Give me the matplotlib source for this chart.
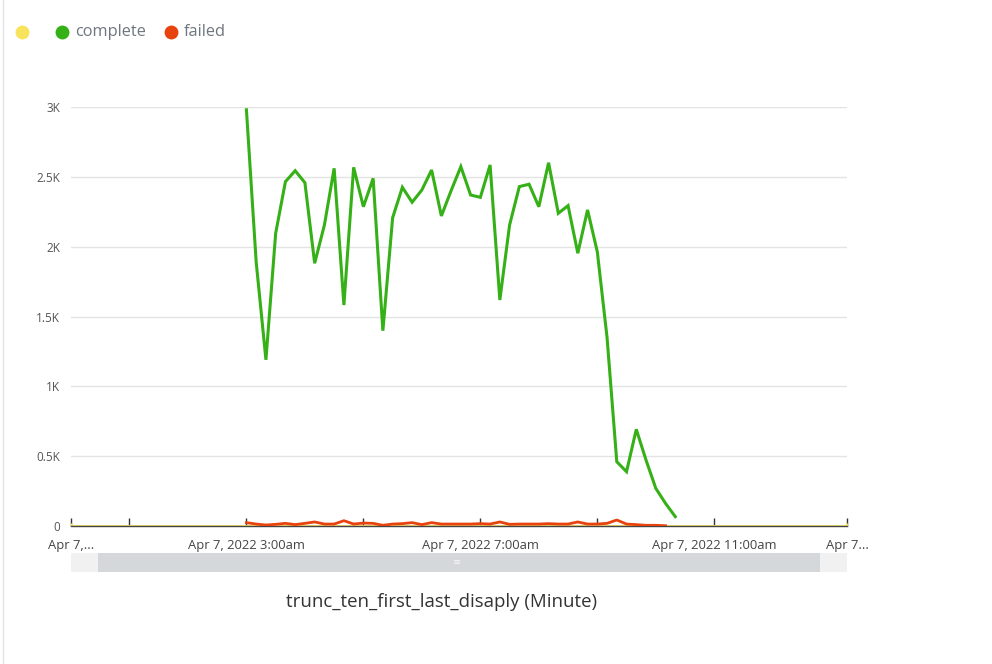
import matplotlib.pyplot as plt
from matplotlib.patches import Rectangle
from matplotlib.lines import Line2D

plt.rcParams['font.family'] = ['Open Sans', 'DejaVu Sans']

# Dados (horas desde 0:00 de Apr 7, 2022; pontos a cada 10 minutos a partir das 3:00)
inicio_h = 3.0
passo_h = 10 / 60

complete = [2980, 1890, 1190, 2096, 2465, 2544, 2458, 1881, 2155, 2561,
            1582, 2568, 2286, 2489, 1398, 2207, 2425, 2318, 2406, 2549,
            2220, 2401, 2573, 2370, 2353, 2585, 1618, 2155, 2430, 2447,
            2286, 2601, 2239, 2294, 1953, 2263, 1964, 1350, 460, 389,
            692, 472, 270, 162, 67]
failed = [24, 14, 7, 12, 19, 10, 19, 29, 14, 14,
          38, 14, 21, 19, 5, 14, 17, 24, 10, 24,
          14, 14, 14, 14, 17, 14, 29, 12, 14, 14,
          14, 17, 14, 14, 29, 14, 14, 19, 43, 14,
          10, 5, 5, 2]
amarelo_t = [0.0, 13.27]
amarelo_v = [0, 0]

x_complete = [inicio_h + i * passo_h for i in range(len(complete))]
x_failed = [inicio_h + i * passo_h for i in range(len(failed))]

x_ticks = [0, 1, 3, 5, 7, 9, 11, 13.27]
x_labels = ["Apr 7,...", "", "Apr 7, 2022 3:00am", "", "Apr 7, 2022 7:00am",
            "", "Apr 7, 2022 11:00am", "Apr 7..."]
y_ticks = [0, 500, 1000, 1500, 2000, 2500, 3000]
y_labels = ["0", "0.5K", "1K", "1.5K", "2K", "2.5K", "3K"]

verde = "#35b017"
vermelho = "#e8430e"
amarelo = "#f7e35c"

W, H = 992, 664
fig = plt.figure(figsize=(W / 100, H / 100), dpi=100)
fig.patch.set_facecolor("white")

ax = fig.add_axes([71 / W, 1 - 526 / H, (847 - 71) / W, (526 - 107) / H])
ax.plot(amarelo_t, amarelo_v, color=amarelo, lw=2, marker="|", ms=4, mew=2, zorder=2)
ax.plot(x_complete, complete, color=verde, lw=2.2, solid_joinstyle="miter", zorder=3)
ax.plot(x_failed, failed, color=vermelho, lw=2, zorder=3)

ax.set_xlim(0, 13.27)
ax.set_ylim(0, 3000)
ax.set_yticks(y_ticks)
ax.set_yticklabels(y_labels)
ax.set_xticks(x_ticks)
ax.set_xticklabels(x_labels)
ax.grid(axis="y", color="#e3e3e3", lw=1)
ax.set_axisbelow(True)
for s in ["top", "right", "left"]:
    ax.spines[s].set_visible(False)
ax.spines["bottom"].set_color("#444444")
ax.spines["bottom"].set_linewidth(1)
ax.tick_params(axis="y", length=0, pad=8, labelsize=8.5, labelcolor="#555555")
ax.tick_params(axis="x", direction="in", length=6, width=1, color="#333333",
               pad=9, labelsize=9.4, labelcolor="#444444")


def px(x, y):
    return x / W, 1 - y / H


# Barra de rolagem
fig.add_artist(Rectangle(px(71, 572), (847 - 71) / W, 19 / H,
                         transform=fig.transFigure, color="#d5d8db", lw=0))
for x0 in (71, 820):
    fig.add_artist(Rectangle(px(x0, 572), 27 / W, 19 / H,
                             transform=fig.transFigure, color="#f1f1f1", lw=0))
fig.text(457 / W, 1 - 563 / H, "≡", ha="center", va="center", fontsize=7, color="#f4f4f4")

# Titulo do eixo x
fig.text(441 / W, 1 - 602 / H, "trunc_ten_first_last_disaply (Minute)",
         ha="center", va="center", fontsize=13.4, color="#333333")

# Legenda
for cx, cor in ((22, amarelo), (62, verde), (171, vermelho)):
    x, y = px(cx, 32)
    fig.add_artist(Line2D([x], [y], transform=fig.transFigure, marker="o",
                          ms=10, color=cor, mew=0, lw=0))
fig.text(75 / W, 1 - 32 / H, "complete", ha="left", va="center", fontsize=11.8, color="#707680")
fig.text(184 / W, 1 - 32 / H, "failed", ha="left", va="center", fontsize=11.8, color="#707680")

# Borda esquerda
fig.add_artist(Line2D([3 / W, 3 / W], [0, 1], transform=fig.transFigure,
                      color="#e2e2e2", lw=1))

plt.savefig("out.png", dpi=100)
plt.close()
